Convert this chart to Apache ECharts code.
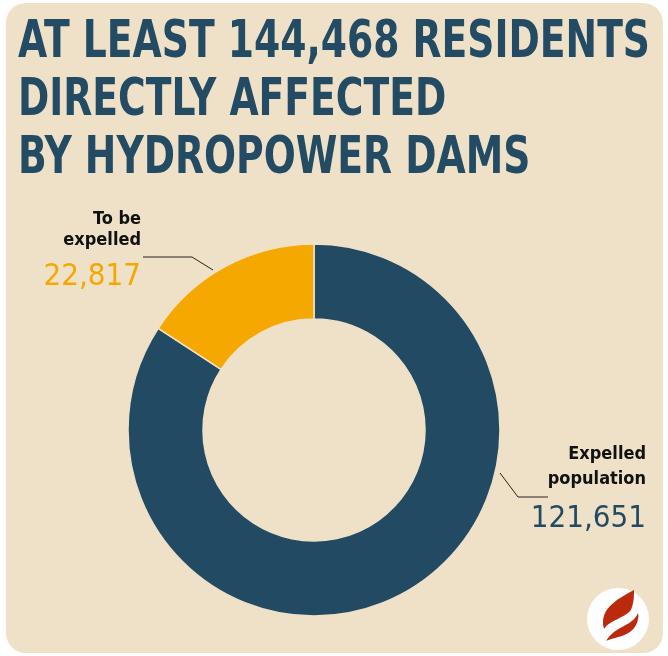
<!DOCTYPE html>
<html><head><meta charset="utf-8">
<script src="https://cdn.jsdelivr.net/npm/echarts@6/dist/echarts.min.js"></script>
<style>html,body{margin:0;padding:0;background:#fff;}#c{width:668px;height:656px;}</style>
</head><body><div id="c"></div>
<script>
const titleLines = ['AT LEAST 144,468 RESIDENTS', 'DIRECTLY AFFECTED', 'BY HYDROPOWER DAMS'];
const categories = ['Expelled\npopulation', 'To be\nexpelled'];
const values = [121651, 22817];
const colors = ['#224B63', '#F4A800'];

const FAM = '"DejaVu Sans Condensed", "Liberation Sans Narrow", sans-serif';
const TITLE_FONT = 'bold 52px ' + FAM;
const mctx = document.createElement('canvas').getContext('2d');
mctx.font = TITLE_FONT;
const w1 = mctx.measureText(titleLines[0]).width;
const sx = 632 / w1;

echarts.graphic.registerShape('flameA', echarts.graphic.extendPath('M 16 -29 C 4 -22 -20 -12 -14 10 C -8 0 12 -2 14 -12 C 16 -18 16 -24 16 -29 Z', {}));
echarts.graphic.registerShape('flameB', echarts.graphic.extendPath('M 20 -6 C 14 8 -2 6 -12 22 C -4 18 12 18 18 6 C 20 2 21 -2 20 -6 Z', {}));

const chart = echarts.init(document.getElementById('c'), null, {renderer: 'canvas'});
const fmt = v => v.toLocaleString('en-US');

const titleGraphics = titleLines.map((t, i) => ({
  type: 'text', x: 18, y: 17 + i * 58, scaleX: sx, originX: 0,
  style: {text: t, font: TITLE_FONT, fill: '#234B63', verticalAlign: 'top'}
}));

const labelPos = [
  {x: 646, y: 442, nLH: 25, vLH: 53, line: [[500, 473], [518, 497], [548, 497]]},
  {x: 141, y: 209, nLH: 21, vLH: 52, line: [[213, 270], [192, 257], [143, 257]]}
];

chart.setOption({
  animation: false,
  graphic: [
    {type: 'rect', shape: {x: 6, y: 3, width: 657, height: 650, r: 20}, style: {fill: '#EFE1C7'}, z: -10},
    ...titleGraphics,
    {type: 'circle', shape: {cx: 618, cy: 619, r: 31}, style: {fill: '#FFFFFF'}},
    {type: 'flameA', x: 618, y: 619, style: {fill: '#BC2A0E'}},
    {type: 'flameB', x: 618, y: 619, style: {fill: '#BC2A0E'}}
  ],
  series: [{
    type: 'pie',
    center: [314, 430],
    radius: [111, 186],
    startAngle: 90,
    clockwise: true,
    silent: true,
    itemStyle: {borderColor: '#EFE1C7', borderWidth: 1.5},
    data: categories.map((c, i) => ({name: c, value: values[i], itemStyle: {color: colors[i]},
      label: {rich: {
        n: {fontFamily: FAM, fontWeight: 'bold', fontSize: 18, color: '#111', lineHeight: labelPos[i].nLH, align: 'right'},
        v: {fontFamily: FAM, fontSize: 31, color: colors[i], lineHeight: labelPos[i].vLH, align: 'right'}
      }}})),
    label: {
      show: true,
      formatter: p => p.name.split('\n').map(s => '{n|' + s + '}').join('\n') + '\n{v|' + fmt(p.value) + '}',
      align: 'right'
    },
    labelLine: {show: true, lineStyle: {color: '#222', width: 1}},
    labelLayout: p => ({x: labelPos[p.dataIndex].x, y: labelPos[p.dataIndex].y, align: 'right', verticalAlign: 'top',
      labelLinePoints: labelPos[p.dataIndex].line})
  }]
});
</script></body></html>
